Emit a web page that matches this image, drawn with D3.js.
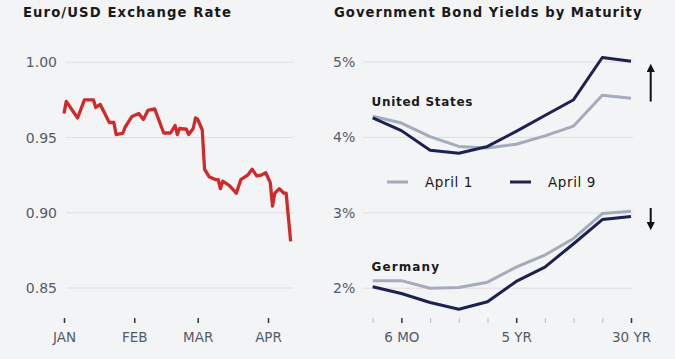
<!DOCTYPE html>
<html>
<head>
<meta charset="utf-8">
<script src="https://cdn.jsdelivr.net/npm/d3@7"></script>
<style>
  html, body { margin: 0; padding: 0; background: #f3f4f6; }
  svg { display: block; }
  text { font-family: "DejaVu Sans", sans-serif; }
</style>
</head>
<body>
<svg id="chart" width="675" height="359"></svg>
<script>
// ---- Data: Euro/USD (EUR per USD), 2025 ----
const fxDates = ["2025-01-01","2025-01-02","2025-01-07","2025-01-10","2025-01-14","2025-01-15","2025-01-17","2025-01-21","2025-01-23","2025-01-24","2025-01-27","2025-01-28","2025-01-31","2025-02-03","2025-02-05","2025-02-07","2025-02-10","2025-02-14","2025-02-17","2025-02-19","2025-02-20","2025-02-21","2025-02-24","2025-02-25","2025-02-27","2025-02-28","2025-03-01","2025-03-03","2025-03-04","2025-03-06","2025-03-09","2025-03-10","2025-03-11","2025-03-12","2025-03-15","2025-03-18","2025-03-20","2025-03-23","2025-03-25","2025-03-27","2025-03-29","2025-03-31","2025-04-02","2025-04-03","2025-04-04","2025-04-06","2025-04-08","2025-04-09","2025-04-11"];
const fxValues = [0.966,0.974,0.963,0.975,0.975,0.970,0.972,0.960,0.960,0.952,0.953,0.957,0.964,0.966,0.962,0.968,0.969,0.953,0.953,0.958,0.952,0.956,0.9555,0.952,0.956,0.963,0.962,0.955,0.929,0.924,0.922,0.922,0.916,0.921,0.918,0.913,0.922,0.925,0.929,0.9245,0.925,0.9266,0.920,0.9045,0.913,0.916,0.913,0.913,0.881];
const fxTicks = [1.00, 0.95, 0.90, 0.85];
const fxMonthDates = ["2025-01-01","2025-02-01","2025-03-01","2025-04-01"];
const fxMonthLabels = ["JAN","FEB","MAR","APR"];

// ---- Data: Government bond yields by maturity ----
const maturities = ["3 MO","6 MO","1 YR","2 YR","3 YR","5 YR","7 YR","10 YR","20 YR","30 YR"];
const maturityLabels = {"6 MO":"6 MO","5 YR":"5 YR","30 YR":"30 YR"};
const usApril1 = [4.28,4.19,4.01,3.88,3.86,3.91,4.02,4.15,4.56,4.52];
const usApril9 = [4.26,4.09,3.83,3.79,3.88,4.08,4.29,4.50,5.06,5.01];
const deApril1 = [2.10,2.10,2.00,2.01,2.08,2.28,2.44,2.66,2.99,3.02];
const deApril9 = [2.02,1.93,1.81,1.72,1.82,2.09,2.28,2.59,2.91,2.95];
const yieldTicks = [5, 4, 3, 2];
const seriesNames = ["April 1", "April 9"];

const colors = { red: "#d12a2a", gray: "#a4abbb", navy: "#1d2150", grid: "#dcdee2", tick: "#555b66", text: "#1a1a1a" };

const svg = d3.select("#chart");
const parse = d3.timeParse("%Y-%m-%d");

// ================= LEFT PANEL =================
const fxX = d3.scaleTime()
  .domain([parse("2025-01-01"), parse("2025-04-01")])
  .range([64, 268]);
const fxY = d3.scaleLinear().domain([0.85, 1.00]).range([288, 62.3]);

svg.append("text").attr("x", 23).attr("y", 16.5)
  .attr("font-size", 13.2).attr("font-weight", "bold").attr("fill", colors.text)
  .attr("letter-spacing", 1.1)
  .text("Euro/USD Exchange Rate");

// grid
const fxGrid = svg.append("g");
fxGrid.selectAll("line").data(fxTicks).join("line")
  .attr("x1", 66).attr("x2", 293)
  .attr("y1", d => fxY(d)).attr("y2", d => fxY(d))
  .attr("stroke", colors.grid).attr("stroke-width", 1);

// y axis labels
const fxYAxis = svg.append("g").attr("transform", "translate(57,0)")
  .call(d3.axisLeft(fxY).tickValues(fxTicks).tickFormat(d3.format(".2f")).tickSize(0).tickPadding(0));
fxYAxis.select(".domain").remove();
fxYAxis.selectAll("text").attr("font-size", 14).attr("fill", colors.tick)
  .attr("font-family", "DejaVu Sans, sans-serif");

// x axis
const fxXAxis = svg.append("g").attr("transform", "translate(0,318)")
  .call(d3.axisBottom(fxX).tickValues(fxMonthDates.map(parse))
    .tickFormat((d, i) => fxMonthLabels[i]).tickSize(5).tickPadding(9));
fxXAxis.select(".domain").remove();
fxXAxis.selectAll("line").attr("stroke", "#333").attr("stroke-width", 1.5);
fxXAxis.selectAll("text").attr("font-size", 13.5).attr("fill", colors.tick)
  .attr("font-family", "DejaVu Sans, sans-serif");

// line
const fxData = fxDates.map((d, i) => ({ date: parse(d), value: fxValues[i] }));
svg.append("path").datum(fxData)
  .attr("fill", "none").attr("stroke", colors.red).attr("stroke-width", 3.3)
  .attr("stroke-linejoin", "round").attr("stroke-linecap", "butt")
  .attr("d", d3.line().x(d => fxX(d.date)).y(d => fxY(d.value)));

// ================= RIGHT PANEL =================
const bX = d3.scalePoint().domain(maturities).range([372.7, 631]);
const bY = d3.scaleLinear().domain([2, 5]).range([288.2, 62]);

svg.append("text").attr("x", 334).attr("y", 16.5)
  .attr("font-size", 13.2).attr("font-weight", "bold").attr("fill", colors.text)
  .attr("letter-spacing", 1.0)
  .text("Government Bond Yields by Maturity");

const bGrid = svg.append("g");
bGrid.selectAll("line").data(yieldTicks).join("line")
  .attr("x1", 363).attr("x2", 633)
  .attr("y1", d => bY(d)).attr("y2", d => bY(d))
  .attr("stroke", colors.grid).attr("stroke-width", 1);

const bYAxis = svg.append("g").attr("transform", "translate(333,0)")
  .call(d3.axisRight(bY).tickValues(yieldTicks).tickFormat(d => d + "%").tickSize(0).tickPadding(0));
bYAxis.select(".domain").remove();
bYAxis.selectAll("text").attr("font-size", 14).attr("fill", colors.tick)
  .attr("font-family", "DejaVu Sans, sans-serif");

const bXAxis = svg.append("g").attr("transform", "translate(0,318)")
  .call(d3.axisBottom(bX).tickFormat(d => maturityLabels[d] || "").tickSize(5).tickPadding(9));
bXAxis.select(".domain").remove();
bXAxis.selectAll(".tick line")
  .attr("stroke", d => maturityLabels[d] ? "#333" : "#b8bcc4")
  .attr("stroke-width", d => maturityLabels[d] ? 1.5 : 1);
bXAxis.selectAll("text").attr("font-size", 13.5).attr("fill", colors.tick)
  .attr("font-family", "DejaVu Sans, sans-serif");

const bLine = d3.line().x((d, i) => bX(maturities[i])).y(d => bY(d));
const bSeries = [
  { vals: usApril1, color: colors.gray },
  { vals: deApril1, color: colors.gray },
  { vals: usApril9, color: colors.navy },
  { vals: deApril9, color: colors.navy }
];
svg.append("g").selectAll("path").data(bSeries).join("path")
  .attr("fill", "none").attr("stroke", d => d.color).attr("stroke-width", 3)
  .attr("stroke-linejoin", "round")
  .attr("d", d => bLine(d.vals));

// country labels
svg.append("text").attr("x", 371.5).attr("y", 106).attr("font-size", 12)
  .attr("font-weight", "bold").attr("fill", colors.text).attr("letter-spacing", 0.7)
  .text("United States");
svg.append("text").attr("x", 371.5).attr("y", 271).attr("font-size", 12)
  .attr("font-weight", "bold").attr("fill", colors.text).attr("letter-spacing", 1.1)
  .text("Germany");

// legend
const legend = svg.append("g");
const legendItems = [
  { name: seriesNames[0], color: colors.gray, x: 387 },
  { name: seriesNames[1], color: colors.navy, x: 510 }
];
legendItems.forEach(it => {
  legend.append("line").attr("x1", it.x).attr("x2", it.x + 21)
    .attr("y1", 182).attr("y2", 182).attr("stroke", it.color).attr("stroke-width", 3);
  legend.append("text").attr("x", it.x + 38).attr("y", 182).attr("dy", "0.35em")
    .attr("font-size", 13.5).attr("fill", colors.text).attr("letter-spacing", 0.6)
    .text(it.name);
});

// arrows
const defs = svg.append("defs");
defs.append("marker").attr("id", "ah").attr("viewBox", "0 0 10 10")
  .attr("refX", 5).attr("refY", 5).attr("markerWidth", 4.2).attr("markerHeight", 4.2)
  .attr("orient", "auto-start-reverse").attr("markerUnits", "strokeWidth")
  .append("path").attr("d", "M0,0 L10,5 L0,10 Z").attr("fill", "#111");

svg.append("line").attr("x1", 650.7).attr("x2", 650.7).attr("y1", 101.5).attr("y2", 68)
  .attr("stroke", "#111").attr("stroke-width", 2).attr("marker-end", "url(#ah)");
svg.append("line").attr("x1", 650.7).attr("x2", 650.7).attr("y1", 208).attr("y2", 226)
  .attr("stroke", "#111").attr("stroke-width", 2).attr("marker-end", "url(#ah)");
</script>
</body>
</html>
